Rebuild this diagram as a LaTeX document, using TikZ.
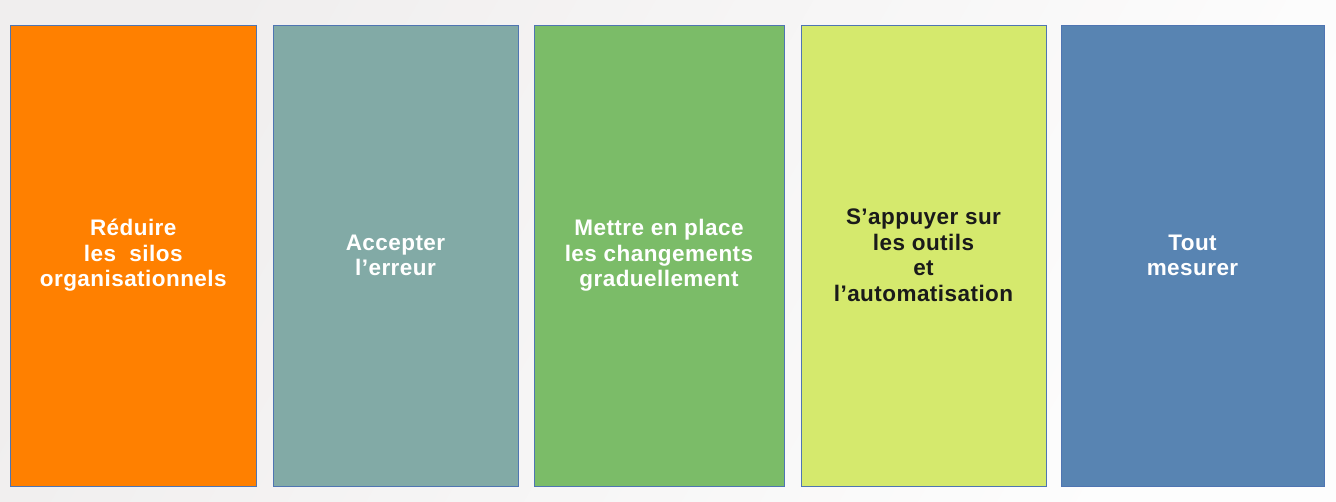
\documentclass[tikz,border=0pt]{standalone}
\usepackage{fontspec}
\newfontfamily\pillarfont{Liberation Sans}[LetterSpace=2]
\definecolor{bgL}{RGB}{240,238,238}
\definecolor{bgR}{RGB}{253,253,253}
\definecolor{edge}{RGB}{79,117,178}
\definecolor{colA}{RGB}{255,128,0}
\definecolor{colB}{RGB}{130,170,166}
\definecolor{colC}{RGB}{123,188,104}
\definecolor{colD}{RGB}{213,233,109}
\definecolor{colE}{RGB}{88,132,178}
\definecolor{inkD}{RGB}{26,26,26}

\begin{document}
\begin{tikzpicture}[x=1pt, y=-1pt,
  pillar/.style={draw=edge, line width=0.8pt, inner sep=0pt, align=center,
    minimum height=461pt, text=white,
    font=\pillarfont\bfseries\fontsize{22.5}{25.5}\selectfont}]
  % background
  \shade[left color=bgL, right color=bgR, shading angle=60] (0,0) rectangle (1336,502);
  \useasboundingbox (0,0) rectangle (1336,502);
  % pillars
  \node[pillar, fill=colA, minimum width=246.5pt] (silos) at (133.25,255.5)
    {R\'eduire\\ les\ \ silos\\ organisationnels};
  \node[pillar, fill=colB, minimum width=245pt] (erreur) at (395.5,255.5)
    {Accepter\\ l’erreur};
  \node[pillar, fill=colC, minimum width=250pt] (graduel) at (659,255.5)
    {Mettre en place\\ les changements\\ graduellement};
  \node[pillar, fill=colD, text=inkD, minimum width=245pt] (outils) at (923.5,255.5)
    {S’appuyer sur\\ les outils\\ et\\ l’automatisation};
  \node[pillar, fill=colE, minimum width=263pt] (mesurer) at (1192.5,255.5)
    {Tout\\ mesurer};
\end{tikzpicture}
\end{document}
